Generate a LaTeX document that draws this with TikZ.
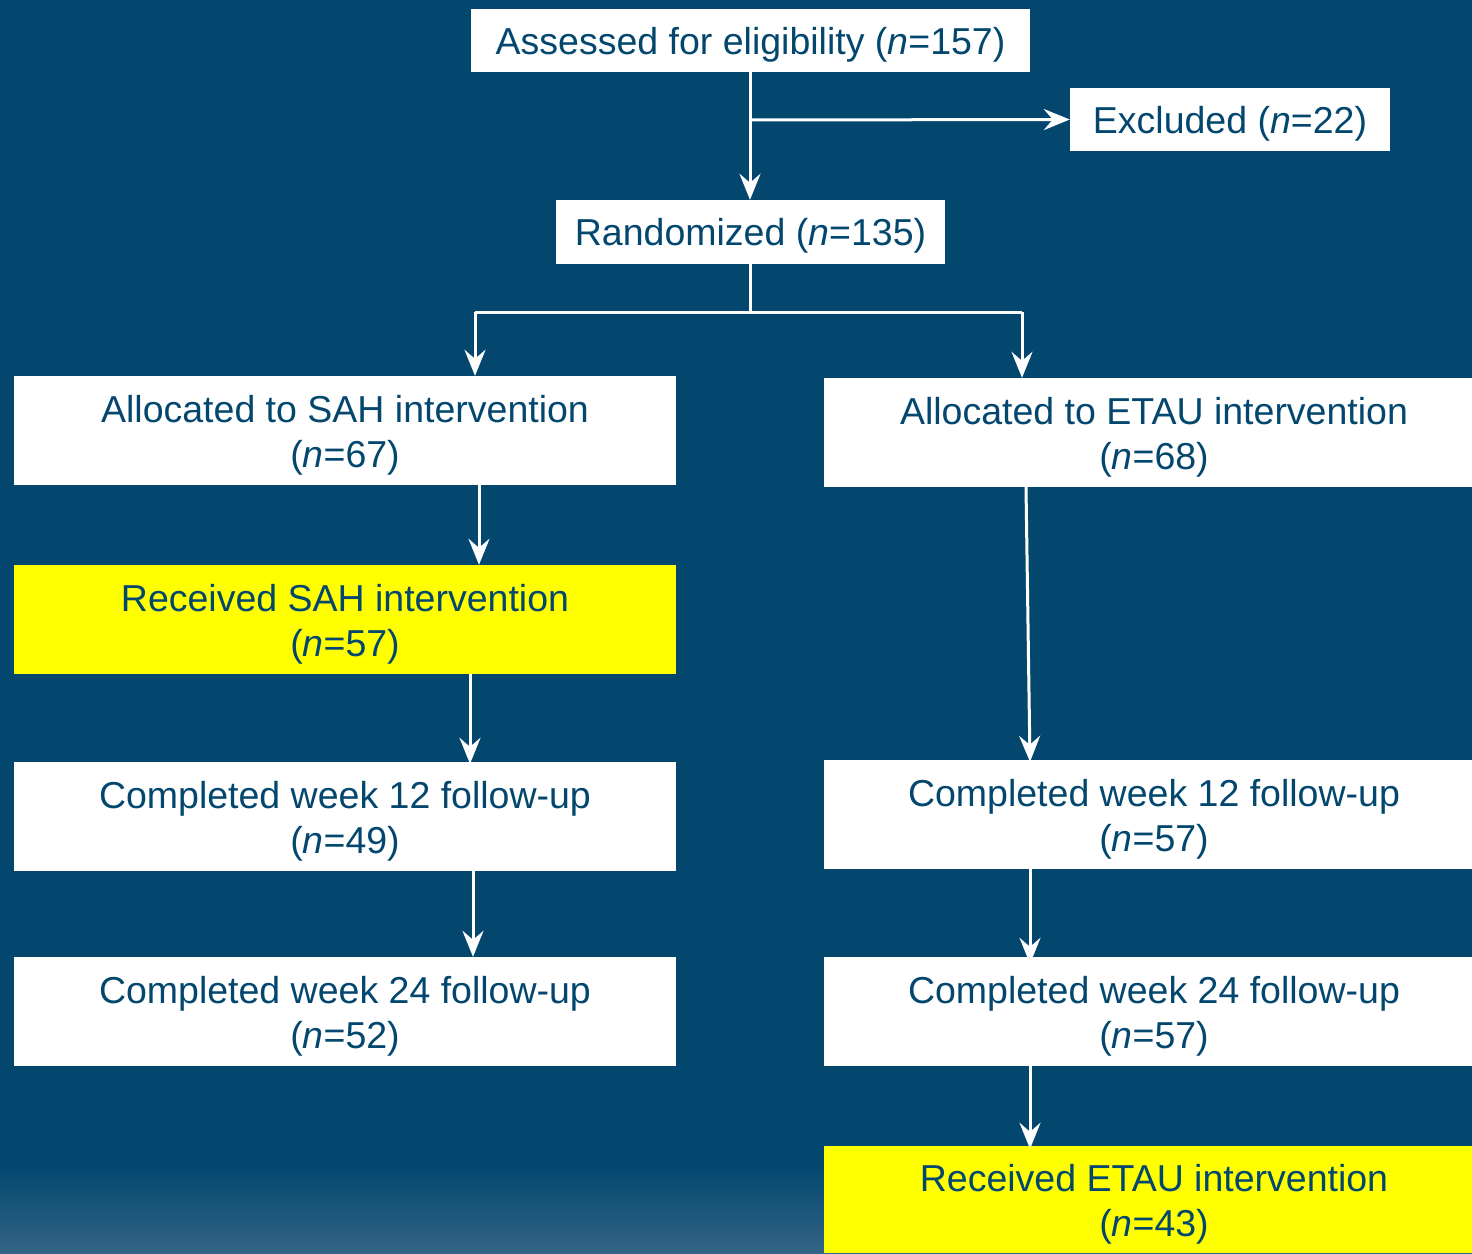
\documentclass[tikz,border=0pt]{standalone}
\usepackage{fontspec}
\setmainfont{Liberation Sans}
\usetikzlibrary{arrows.meta,calc}
\definecolor{bgblue}{HTML}{03476F}
\definecolor{bgbottom}{HTML}{336486}
\definecolor{boxyellow}{HTML}{FFFF00}
\newcommand\tup{\rule{0pt}{36pt}}
\begin{document}
\begin{tikzpicture}[x=1pt,y=-1pt,
  every node/.style={font=\fontsize{37.5}{45}\selectfont, text=bgblue, align=center, inner sep=0pt},
  oneline/.style={execute at begin node={\rule{0pt}{35pt}}},
  wbox/.style={fill=white, rectangle},
  ybox/.style={fill=boxyellow, rectangle},
  conn/.style={draw=white, line width=3pt},
  arr/.style={conn, -{Stealth[length=26pt,width=21pt,inset=9pt]}}
]
\useasboundingbox (0,0) rectangle (1472,1253);
\begin{scope}
\clip (0,0) rectangle (1472,1253);
\fill[bgblue] (0,0) rectangle (1472,1253);
\shade[top color=bgblue, bottom color=bgbottom] (0,1165) rectangle (1472,1253);

\node[wbox, oneline, minimum width=559pt, minimum height=63pt] (assess) at (750.5,40.5) {Assessed for eligibility (\textit{n}=157)};
\node[wbox, oneline, minimum width=320pt, minimum height=63pt] (excl) at (1230,119.5) {Excluded (\textit{n}=22)};
\node[wbox, oneline, minimum width=389pt, minimum height=64pt] (rand) at (750.5,232) {Randomized (\textit{n}=135)};

\node[wbox, minimum width=662pt, minimum height=109pt] (allocS) at (345,430.5) {\tup Allocated to SAH intervention\\(\textit{n}=67)};
\node[wbox, minimum width=660pt, minimum height=109pt] (allocE) at (1154,432.5) {\tup Allocated to ETAU intervention\\(\textit{n}=68)};
\node[ybox, minimum width=662pt, minimum height=109pt] (recS) at (345,619.5) {\tup Received SAH intervention\\(\textit{n}=57)};
\node[wbox, minimum width=662pt, minimum height=109pt] (c12L) at (345,816.5) {\tup Completed week 12 follow-up\\(\textit{n}=49)};
\node[wbox, minimum width=660pt, minimum height=109pt] (c12R) at (1154,814.5) {\tup Completed week 12 follow-up\\(\textit{n}=57)};
\node[wbox, minimum width=662pt, minimum height=109pt] (c24L) at (345,1011.5) {\tup Completed week 24 follow-up\\(\textit{n}=52)};
\node[wbox, minimum width=660pt, minimum height=109pt] (c24R) at (1154,1011.5) {\tup Completed week 24 follow-up\\(\textit{n}=57)};
\node[ybox, minimum width=660pt, minimum height=107pt] (recE) at (1154,1199.5) {\tup Received ETAU intervention\\(\textit{n}=43)};

% column helper coordinates
\coordinate (xA) at (750,0);
\coordinate (xL1) at (475,0);
\coordinate (xL2) at (479,0);
\coordinate (xL3) at (470,0);
\coordinate (xL4) at (473,0);
\coordinate (xR1) at (1022,0);
\coordinate (xR2a) at (1026,0);
\coordinate (xR2b) at (1030,0);
\coordinate (splitY) at (0,312);

% connectors
\draw[arr] (assess.south -| xA) -- (rand.north -| xA);
\coordinate (br) at (750,120);
\draw[arr] (br) -- (excl.west);
\coordinate (split) at (xA |- splitY);
\coordinate (sL) at (xL1 |- splitY);
\coordinate (sR) at (xR1 |- splitY);
\draw[conn] (rand.south -| xA) -- (split);
\draw[conn] (sL) -- (sR);
\draw[arr] (sL) -- (allocS.north -| sL);
\draw[arr] (sR) -- (allocE.north -| sR);
\draw[arr] (allocS.south -| xL2) -- (recS.north -| xL2);
\draw[arr] (recS.south -| xL3) -- ([yshift=-2pt]c12L.north -| xL3);
\draw[arr] (c12L.south -| xL4) -- (c24L.north -| xL4);
\draw[arr] (allocE.south -| xR2a) -- ([yshift=-2pt]c12R.north -| xR2b);
\draw[arr] (c12R.south -| xR2b) -- ([yshift=-7pt]c24R.north -| xR2b);
\draw[arr] (c24R.south -| xR2b) -- ([yshift=-3pt]recE.north -| xR2b);
\end{scope}
\end{tikzpicture}
\end{document}
